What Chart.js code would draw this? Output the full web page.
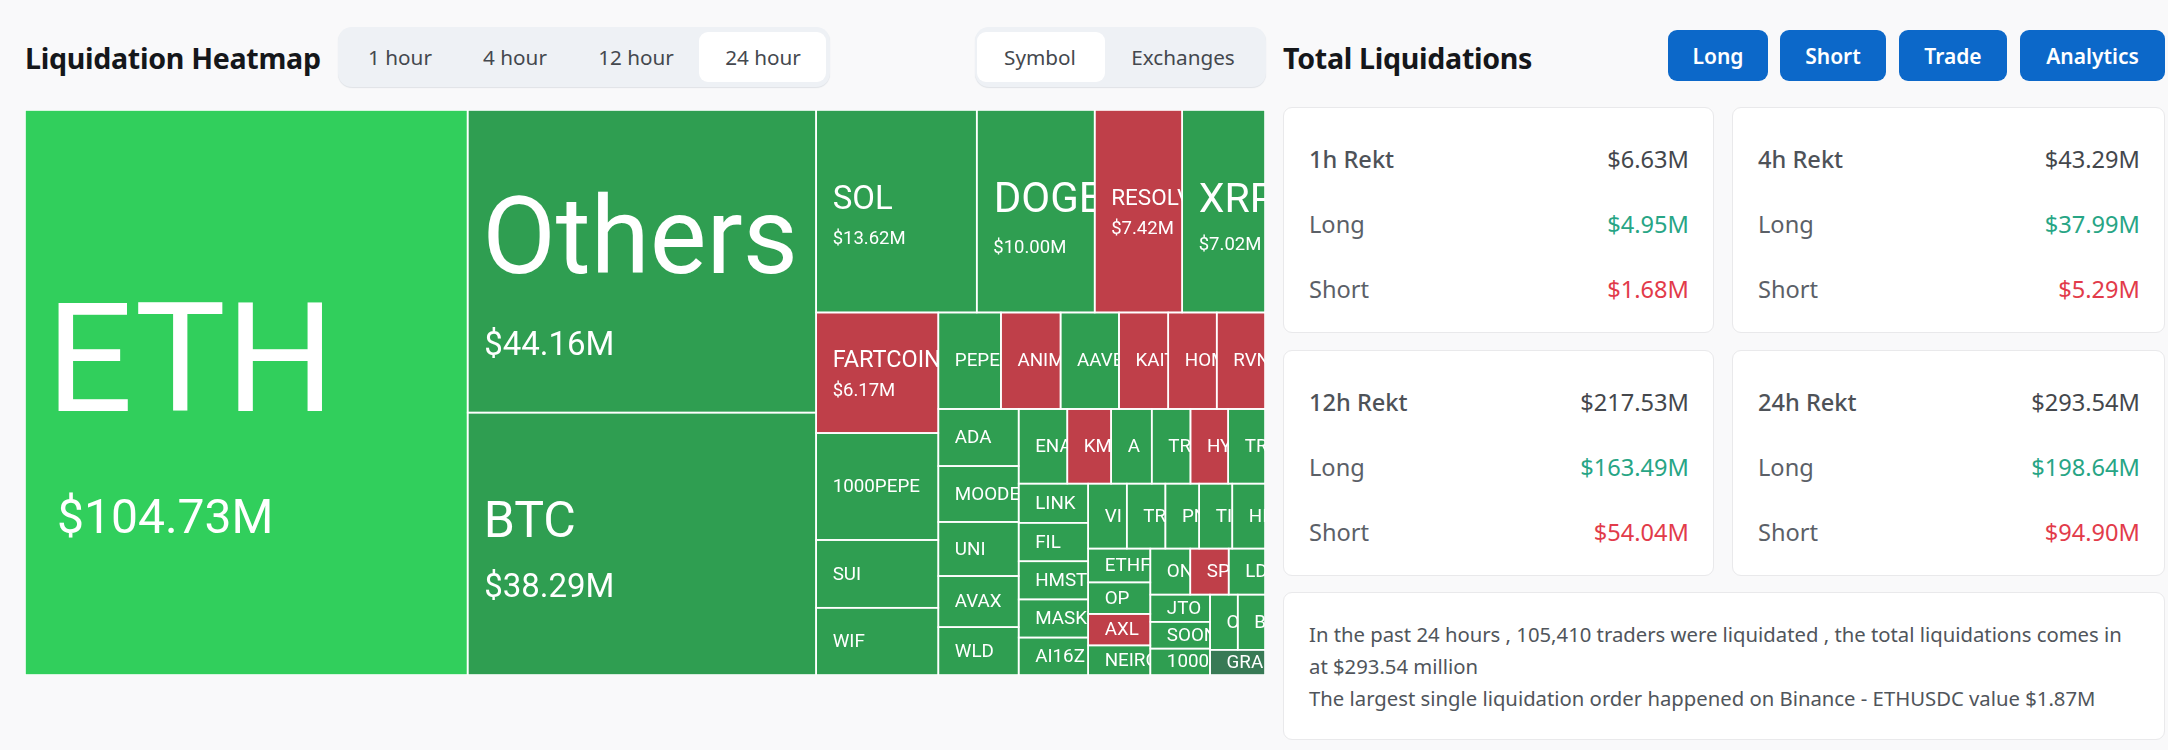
<!DOCTYPE html>
<html><head><meta charset="utf-8">
<script src="https://cdn.jsdelivr.net/npm/chart.js@4/dist/chart.umd.min.js"></script>
<style>
html,body{margin:0;padding:0;background:#f9f9fa;width:2168px;height:750px;overflow:hidden;font-family:"Noto Sans",sans-serif;color:#4a4f56}
.abs{position:absolute;white-space:nowrap}
h2{margin:0;font-size:28.6px;font-weight:700;color:#15171a;line-height:40px;letter-spacing:-.3px}
.pill{background:#eef1f5;border-radius:14px;box-shadow:0 1px 1px #dfe2e6;top:27px;height:60px}
.act{background:#fff;border-radius:9px;top:32px;height:50px}
.tab{top:37px;line-height:40px;font-size:20.7px;color:#44484e;transform:translateX(-50%)}
.btn{top:30px;height:51px;line-height:53px;background:#0c68c9;border-radius:9px;color:#fff;font-size:21px;font-weight:600;text-align:center}
.card{background:#fff;border:1px solid #e9e9eb;border-radius:9px;box-sizing:border-box}
.row{font-size:23.6px;line-height:32px}
.name{color:#5b6067}.head{color:#4e5258;font-weight:500}.tot{color:#44474c}.up{color:#27a585}.dn{color:#e23b4a}
.info{font-size:20.3px;line-height:32px;color:#50555b}
#wrap{position:absolute;left:25px;top:110px;width:1240px;height:565px}
</style></head><body>
<div class="abs" style="left:25px;top:38px"><h2>Liquidation Heatmap</h2></div>
<div class="abs pill" style="left:338px;width:492px"></div>
<div class="abs act" style="left:699px;width:127px"></div>
<div class="abs pill" style="left:975px;width:291px"></div>
<div class="abs act" style="left:977px;width:128px"></div>
<div class="abs" style="left:1283px;top:38px"><h2>Total Liquidations</h2></div>
<div id="wrap"><canvas id="c" width="1240" height="565"></canvas></div>
<script>
const symbols=["ETH","Others","BTC","SOL","DOGE","RESOLV","XRP","FARTCOIN","1000PEPE","SUI","WIF","PEPE","ANIME","AAVE","KAITO","HOME","RVN","ADA","MOODENG","UNI","AVAX","WLD","ENA","KMNO","A","TR","HYPE","TR","LINK","FIL","HMSTR","MASK","AI16Z","VI","TR","PN","TI","HI","ETHFI","OP","AXL","NEIRO","ON","SP","LD","JTO","SOON","1000","O","B","GRA"];
const values=[104.73,44.16,38.29,13.62,10.00,7.42,7.02,6.17,5.47,3.47,3.44,2.53,2.41,2.36,1.99,1.96,1.95,1.92,1.88,1.82,1.72,1.61,1.52,1.37,1.27,1.21,1.18,1.15,1.14,1.12,1.11,1.11,1.09,1.05,1.05,0.92,0.90,0.89,0.88,0.82,0.82,0.77,0.77,0.74,0.70,0.68,0.67,0.66,0.64,0.63,0.58];
const tones=["top","g","g","g","g","r","g","r","g","g","g","g","r","g","r","r","r","g","g","g","g","g","g","r","g","g","r","g","g","g","g","g","g","g","g","g","g","g","g","g","r","g","g","r","g","g","g","g","g","g","d"];
const valueLabels={ETH:"$104.73M",Others:"$44.16M",BTC:"$38.29M",SOL:"$13.62M",DOGE:"$10.00M",RESOLV:"$7.42M",XRP:"$7.02M",FARTCOIN:"$6.17M"};
// nesting of the treemap: arrays alternate row / column, starting with a row; numbers index symbols[]
const nesting=[0,[1,2],[[3,4,5,6],[[7,8,9,10],[[11,12,13,14,15,16],[[17,18,19,20,21],[[22,23,24,25,26,27],[[28,29,30,31,32],[[33,34,35,36,37],[[38,39,40,41],[[42,43,44],[[45,46,47],[[48,49],50]]]]]]]]]]]];
const rektNames=["1h Rekt","4h Rekt","12h Rekt","24h Rekt"];
const rektTotal=["$6.63M","$43.29M","$217.53M","$293.54M"];
const rektLong=["$4.95M","$37.99M","$163.49M","$198.64M"];
const rektShort=["$1.68M","$5.29M","$54.04M","$94.90M"];
const infoLines=["In the past 24 hours , 105,410 traders were liquidated , the total liquidations comes in","at $293.54 million","The largest single liquidation order happened on Binance - ETHUSDC value $1.87M"];

// ---- presentation ----
const toneColor={top:"#31cf5c",g:"#2f9e51",r:"#bf3f49",d:"#387a55"};
const labelStyle={ETH:[153,48,-36,123,21,32],Others:[107,33,-26,82,14.5,16.5],BTC:[50,33,-25,41,16,16.5],SOL:[33,18.5,-14,26,16.5,16.5],DOGE:[42,18.5,-14,35,17,16.5],RESOLV:[22.5,18.5,-14,16,16.5,16.5],XRP:[41,18.5,-14,32,16.5,16.5],FARTCOIN:[23.5,18.5,-14,17,16.5,16.5]};
const smallLabel=[18.8,0,-1,0,16.5,0];
const FONT='Roboto, sans-serif', SQUEEZE=1;

function sum(n){return Array.isArray(n)?n.reduce((a,c)=>a+sum(c),0):values[n];}
function place(n,x0,y0,x1,y1,isRow,out){
  if(!Array.isArray(n)){out.push({x:x0,y:y0,x1,y1,i:n});return out;}
  const t=sum(n);let p=isRow?x0:y0;
  n.forEach(c=>{const f=sum(c)/t,s=(isRow?x1-x0:y1-y0)*f;
    if(isRow)place(c,p,y0,p+s,y1,false,out);else place(c,x0,p,x1,p+s,true,out);p+=s;});
  return out;
}
const cells=place(nesting,0,0,1,1,true,[]);
const treemapPlugin={id:"treemapCells",afterDatasetsDraw(chart){
  const {ctx,scales:{x,y},chartArea:a}=chart;
  ctx.save();ctx.beginPath();ctx.rect(a.left,a.top,a.width,a.height);ctx.clip();
  chart.data.datasets[0].data.forEach(d=>{
    const l=x.getPixelForValue(d.x),r=x.getPixelForValue(d.x1),t=y.getPixelForValue(d.y),b=y.getPixelForValue(d.y1);
    ctx.fillStyle=toneColor[tones[d.i]];ctx.fillRect(l,t,r-l,b-t);
  });
  chart.data.datasets[0].data.forEach(d=>{
    const l=x.getPixelForValue(d.x),r=x.getPixelForValue(d.x1),t=y.getPixelForValue(d.y),b=y.getPixelForValue(d.y1);
    ctx.strokeStyle="#fff";ctx.lineWidth=1.6;ctx.strokeRect(l,t,r-l,b-t);
    const name=symbols[d.i],s=labelStyle[name]||smallLabel,cy=(t+b)/2;
    ctx.save();ctx.beginPath();ctx.rect(l,t,r-l,b-t);ctx.clip();
    ctx.fillStyle="#fff";ctx.textBaseline="alphabetic";ctx.textAlign="left";
    const put=(txt,size,px,dy)=>{ctx.save();ctx.translate(l+px,cy+dy+size*0.355);ctx.scale(SQUEEZE,1);ctx.font=size+"px "+FONT;ctx.fillText(txt,0,0);ctx.restore();};
    put(name,s[0],s[4],s[2]);
    if(valueLabels[name])put(valueLabels[name],s[1],s[5],s[3]);
    ctx.restore();
  });
  ctx.restore();
}};
new Chart(document.getElementById("c"),{type:"scatter",
  data:{datasets:[{label:"Liquidations",data:cells,pointRadius:0,showLine:false}]},
  options:{responsive:false,animation:false,devicePixelRatio:1,layout:{padding:0},
    plugins:{legend:{display:false},tooltip:{enabled:false},title:{display:false}},
    scales:{x:{type:"linear",min:0,max:1,display:false},y:{type:"linear",min:0,max:1,reverse:true,display:false}}},
  plugins:[treemapPlugin]});

// ---- DOM panels ----
function add(cls,css,txt){const e=document.createElement("div");e.className="abs "+cls;e.style.cssText=css;if(txt!=null)e.textContent=txt;document.body.appendChild(e);return e;}
[["1 hour",400],["4 hour",515],["12 hour",636],["24 hour",763],["Symbol",1040],["Exchanges",1183]].forEach(t=>add("tab","left:"+t[1]+"px",t[0]));
[["Long",1668,100],["Short",1780,106],["Trade",1899,108],["Analytics",2020,145]].forEach(b=>add("btn","left:"+b[1]+"px;width:"+b[2]+"px",b[0]));
const cardX=[1283,1732,1283,1732],cardW=[431,433,431,433],cardY=[107,107,350,350];
rektNames.forEach((n,i)=>{
  add("card","left:"+cardX[i]+"px;top:"+cardY[i]+"px;width:"+cardW[i]+"px;height:226px");
  const lx=cardX[i]+26,rx=2168-(cardX[i]+cardW[i]-25);
  [[n,rektTotal[i],"head","tot"],["Long",rektLong[i],"name","up"],["Short",rektShort[i],"name","dn"]].forEach((r,k)=>{
    const ty=cardY[i]+[36,101,165.5][k];
    add("row "+r[2],"left:"+lx+"px;top:"+ty+"px",r[0]);
    add("row "+r[3],"right:"+rx+"px;top:"+ty+"px",r[1]);
  });
});
add("card","left:1283px;top:592px;width:882px;height:148px");
infoLines.forEach((t,i)=>add("info","left:1309px;top:"+(618+i*32)+"px",t));
</script>
</body></html>
